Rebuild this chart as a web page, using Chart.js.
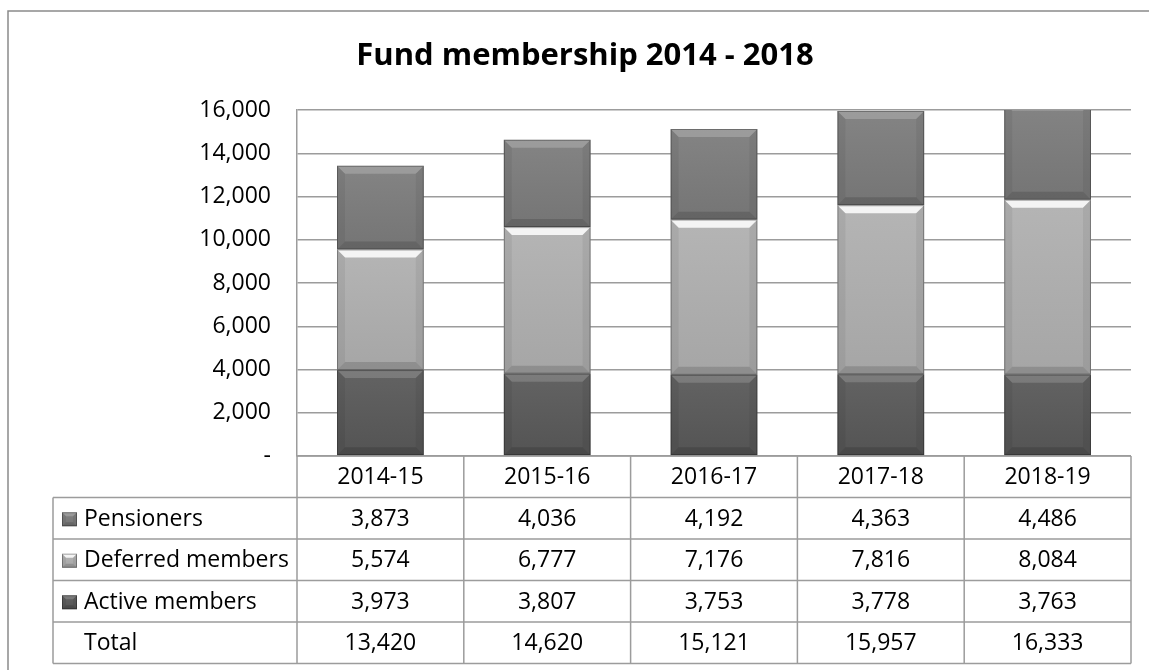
<!DOCTYPE html>
<html>
<head>
<meta charset="utf-8">
<title>Fund membership 2014 - 2018</title>
<script src="https://cdn.jsdelivr.net/npm/chart.js@4.4.0/dist/chart.umd.min.js"></script>
<style>
  html, body { margin: 0; padding: 0; background: #fff; }
  #wrap { position: relative; width: 1149px; height: 670px; }
</style>
</head>
<body>
<div id="wrap"><canvas id="chart"></canvas></div>
<script>
// values
const years = ['2014-15', '2015-16', '2016-17', '2017-18', '2018-19'];
const activeMembers = [3973, 3807, 3753, 3778, 3763];
const deferredMembers = [5574, 6777, 7176, 7816, 8084];
const pensioners = [3873, 4036, 4192, 4363, 4486];
const totals = [13420, 14620, 15121, 15957, 16333];
const yTicks = [0, 2000, 4000, 6000, 8000, 10000, 12000, 14000, 16000];

const FONT = "'Open Sans', 'DejaVu Sans', sans-serif";
const GRID = '#9c9c9c';
const fmt = v => v.toLocaleString('en-US');

Chart.defaults.font.family = FONT;
Chart.defaults.color = '#000';

// bevel look on each bar segment
const bevelPlugin = {
  id: 'bevel',
  afterDatasetsDraw(chart) {
    const ctx = chart.ctx;
    const area = chart.chartArea;
    ctx.save();
    ctx.beginPath();
    ctx.rect(area.left, area.top, area.right - area.left, area.bottom - area.top);
    ctx.clip();
    chart.data.datasets.forEach((ds, di) => {
      chart.getDatasetMeta(di).data.forEach(bar => {
        const L = bar.x - bar.width / 2, R = bar.x + bar.width / 2;
        const T = Math.min(bar.y, bar.base), B = Math.max(bar.y, bar.base);
        drawBevel(ctx, L, T, R, B, ds.topLight, 8);
      });
    });
    ctx.restore();
  }
};

function drawBevel(ctx, L, T, R, B, topLight, size) {
  const b = Math.min(size, (B - T) / 2);
  const poly = pts => {
    ctx.beginPath();
    ctx.moveTo(pts[0][0], pts[0][1]);
    pts.slice(1).forEach(p => ctx.lineTo(p[0], p[1]));
    ctx.closePath();
    ctx.fill();
  };
  // soft vertical shading over the face
  const g = ctx.createLinearGradient(0, T, 0, B);
  g.addColorStop(0, 'rgba(255,255,255,0.06)');
  g.addColorStop(1, 'rgba(0,0,0,0.06)');
  ctx.fillStyle = g;
  ctx.fillRect(L, T, R - L, B - T);

  ctx.fillStyle = topLight;
  poly([[L, T], [R, T], [R - b, T + b], [L + b, T + b]]);
  ctx.fillStyle = 'rgba(0,0,0,0.14)';
  poly([[L, B], [R, B], [R - b, B - b], [L + b, B - b]]);
  ctx.fillStyle = 'rgba(0,0,0,0.06)';
  poly([[L, T], [L + b, T + b], [L + b, B - b], [L, B]]);
  poly([[R, T], [R - b, T + b], [R - b, B - b], [R, B]]);
  ctx.strokeStyle = 'rgba(0,0,0,0.30)';
  ctx.lineWidth = 1;
  ctx.strokeRect(L + 0.5, T + 0.5, R - L - 1, B - T - 1);
}

// frame, title and data table under the plot
const tablePlugin = {
  id: 'dataTable',
  afterDraw(chart) {
    const ctx = chart.ctx;
    const area = chart.chartArea;
    const x = chart.scales.x;
    const rowH = 41.5;
    const tableLeft = 53;
    const top = area.bottom;
    const nRows = 5;
    ctx.save();

    // outer frame
    ctx.strokeStyle = '#8a8a8a';
    ctx.lineWidth = 1.5;
    ctx.beginPath();
    ctx.moveTo(8, 680);
    ctx.lineTo(8, 11);
    ctx.lineTo(1160, 11);
    ctx.stroke();

    // title
    ctx.fillStyle = '#000';
    ctx.font = `bold 31px ${FONT}`;
    ctx.textAlign = 'center';
    ctx.textBaseline = 'alphabetic';
    ctx.fillText('Fund membership 2014 - 2018', 585, 65);

    // column boundaries from the category scale
    const bounds = [area.left];
    for (let i = 0; i < years.length - 1; i++) {
      bounds.push((x.getPixelForValue(i) + x.getPixelForValue(i + 1)) / 2);
    }
    bounds.push(area.right);

    ctx.strokeStyle = GRID;
    ctx.lineWidth = 1.5;
    ctx.beginPath();
    for (let r = 0; r <= nRows; r++) {
      const yy = top + r * rowH;
      ctx.moveTo(r === 0 ? area.left : tableLeft, yy);
      ctx.lineTo(area.right, yy);
    }
    bounds.forEach(bx => {
      ctx.moveTo(bx, top);
      ctx.lineTo(bx, top + nRows * rowH);
    });
    ctx.moveTo(tableLeft, top + rowH);
    ctx.lineTo(tableLeft, top + nRows * rowH);
    ctx.stroke();

    ctx.font = `23px ${FONT}`;
    ctx.textBaseline = 'middle';
    ctx.fillStyle = '#000';
    ctx.textAlign = 'center';
    years.forEach((yr, i) => ctx.fillText(yr, x.getPixelForValue(i), top + rowH / 2 + 1));

    const rows = [
      { label: 'Pensioners', values: pensioners, ds: chart.data.datasets[2] },
      { label: 'Deferred members', values: deferredMembers, ds: chart.data.datasets[1] },
      { label: 'Active members', values: activeMembers, ds: chart.data.datasets[0] },
      { label: 'Total', values: totals, ds: null }
    ];
    rows.forEach((row, r) => {
      const cy = top + (r + 1.5) * rowH + 1;
      if (row.ds) {
        ctx.fillStyle = row.ds.backgroundColor;
        ctx.fillRect(62, cy - 7, 15, 14);
        drawBevel(ctx, 62, cy - 7, 77, cy + 7, row.ds.topLight, 4);
      }
      ctx.fillStyle = '#000';
      ctx.textAlign = 'left';
      ctx.fillText(row.label, 84, cy);
      ctx.textAlign = 'center';
      row.values.forEach((v, i) => ctx.fillText(fmt(v), x.getPixelForValue(i), cy));
    });
    ctx.restore();
  }
};

new Chart(document.getElementById('chart'), {
  type: 'bar',
  data: {
    labels: years,
    datasets: [
      { label: 'Active members', data: activeMembers, backgroundColor: '#595959', topLight: 'rgba(255,255,255,0.16)' },
      { label: 'Deferred members', data: deferredMembers, backgroundColor: '#b0b0b0', topLight: 'rgba(255,255,255,0.85)' },
      { label: 'Pensioners', data: pensioners, backgroundColor: '#7c7c7c', topLight: 'rgba(255,255,255,0.2)' }
    ]
  },
  options: {
    responsive: true,
    maintainAspectRatio: false,
    animation: false,
    layout: { padding: { top: 110, right: 18, bottom: 214, left: 0 } },
    datasets: { bar: { categoryPercentage: 1, barPercentage: 0.52, borderWidth: 0 } },
    plugins: { legend: { display: false }, tooltip: { enabled: false }, title: { display: false } },
    scales: {
      x: { stacked: true, display: false },
      y: {
        stacked: true,
        min: 0,
        max: 16000,
        afterFit: s => { s.width = 297; },
        afterBuildTicks: s => { s.ticks = yTicks.map(v => ({ value: v })); },
        ticks: {
          padding: 26,
          font: { size: 23 },
          color: '#000',
          callback: v => (v === 0 ? '-' : fmt(v))
        },
        grid: { color: GRID, lineWidth: 1.5, drawTicks: false },
        border: { display: true, color: GRID, width: 1.5 }
      }
    }
  },
  plugins: [bevelPlugin, tablePlugin]
});
</script>
</body>
</html>
